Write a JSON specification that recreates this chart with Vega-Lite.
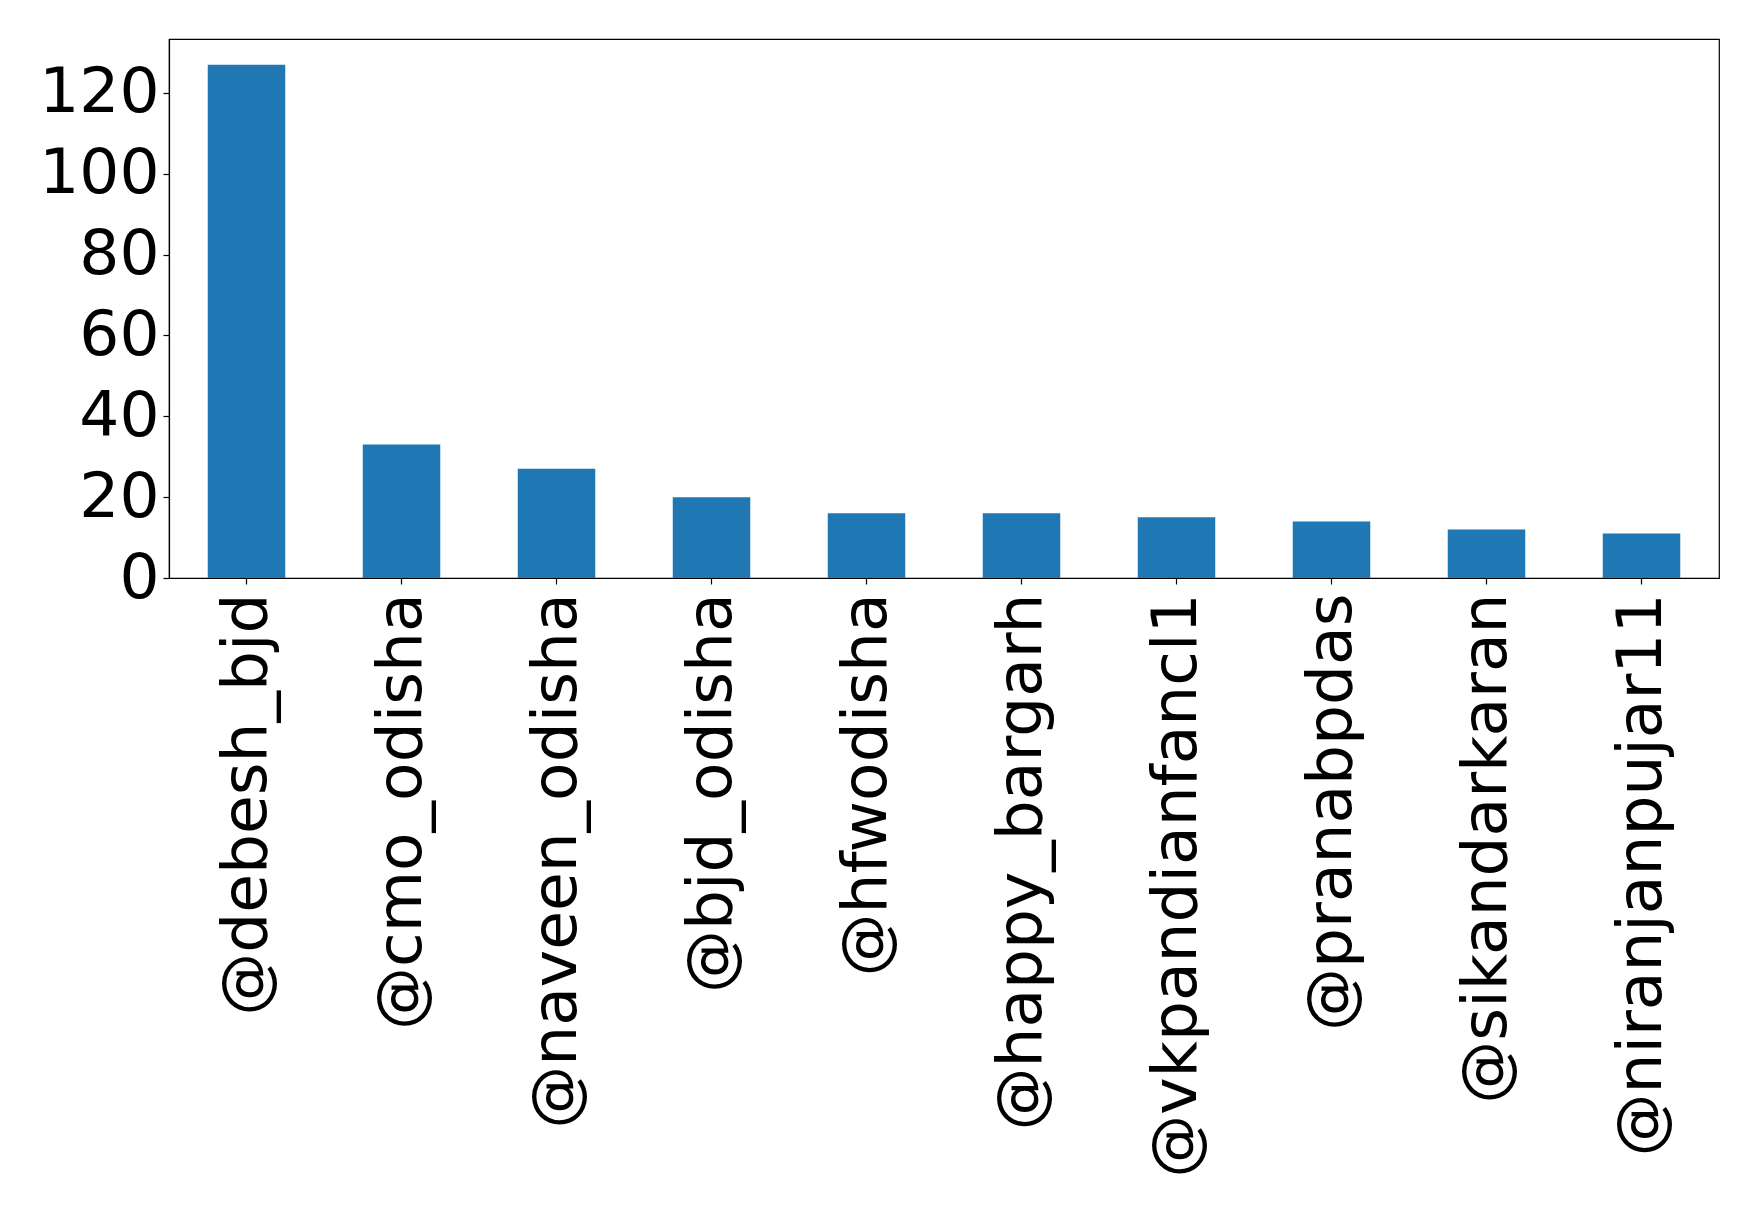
{
  "$schema": "https://vega.github.io/schema/vega-lite/v6.json",
  "width": 1550,
  "height": 539,
  "autosize": {"type": "none"},
  "padding": {"left": 169, "top": 39, "right": 39, "bottom": 629},
  "background": "white",
  "config": {
    "font": "DejaVu Sans",
    "view": {"stroke": "black", "strokeWidth": 1.2},
    "axis": {"grid": false, "domainColor": "black", "tickColor": "black", "labelColor": "black", "labelFont": "DejaVu Sans", "labelFontSize": 62, "tickSize": 6, "domainWidth": 1.2, "tickWidth": 1.2}
  },
  "data": {
    "values": [
      {"user": "@debesh_bjd", "count": 127},
      {"user": "@cmo_odisha", "count": 33},
      {"user": "@naveen_odisha", "count": 27},
      {"user": "@bjd_odisha", "count": 20},
      {"user": "@hfwodisha", "count": 16},
      {"user": "@happy_bargarh", "count": 16},
      {"user": "@vkpandianfancl1", "count": 15},
      {"user": "@pranabpdas", "count": 14},
      {"user": "@sikandarkaran", "count": 12},
      {"user": "@niranjanpujar11", "count": 11}
    ]
  },
  "mark": {"type": "bar", "color": "#1f77b4"},
  "encoding": {
    "x": {
      "field": "user",
      "type": "nominal",
      "sort": null,
      "title": null,
      "scale": {"paddingInner": 0.5, "paddingOuter": 0.25},
      "axis": {"labelAngle": -90, "labelAlign": "right", "labelBaseline": "middle", "labelPadding": 9, "labelLimit": 0, "labelFontSize": 63}
    },
    "y": {
      "field": "count",
      "type": "quantitative",
      "title": null,
      "scale": {"domain": [0, 133.35], "nice": false, "zero": true},
      "axis": {"values": [0, 20, 40, 60, 80, 100, 120], "labelPadding": 4, "labelFontSize": 63}
    }
  }
}
